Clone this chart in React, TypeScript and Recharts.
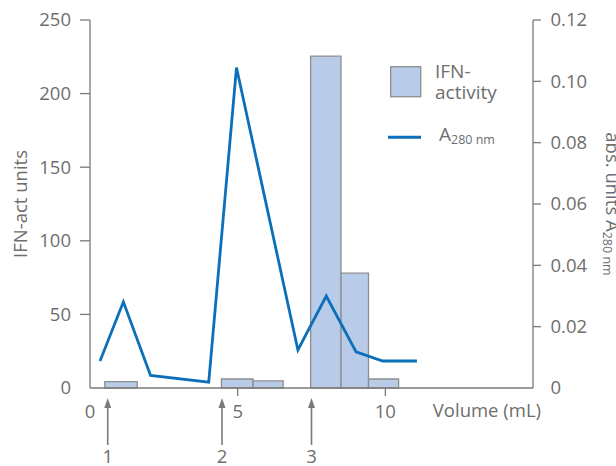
import { ComposedChart, Line, XAxis, YAxis, ReferenceArea, Legend, Label } from 'recharts';

// fractions (IFN activity, histogram bars)
const fractionStart = [0.5, 4.45, 5.52, 7.47, 8.5, 9.43];
const fractionEnd = [1.6, 5.52, 6.54, 8.5, 9.43, 10.45];
const ifnActivity = [4.3, 6.1, 4.8, 225.5, 78, 6.1];

// absorbance trace
const volumes = [0.34, 1.13, 2.05, 4.02, 4.96, 7.04, 8.0, 9.01, 9.91, 11.07];
const a280 = [0.0088, 0.0281, 0.0041, 0.0019, 0.1045, 0.0124, 0.03, 0.0118, 0.0088, 0.0088];

// sample injections
const injectionVolumes = [0.6, 4.47, 7.5];
const injectionLabels = ['1', '2', '3'];

const volumeTicks = [0, 5, 10];
const ifnTicks = [0, 50, 100, 150, 200, 250];
const absTicks = [0, 0.02, 0.04, 0.06, 0.08, 0.1, 0.12];

const lineData = volumes.map((v, i) => ({ volume: v, a280: a280[i] }));

const FONT = '"Open Sans", sans-serif';
const TEXT = '#6e6e6e';
const AXIS = '#7a7a7a';
const BAR_FILL = '#b8cbe8';
const BAR_STROKE = '#8e8e8e';
const LINE = '#0b6fba';
const FS = 18.5;

const LeftTick = ({ x, y, payload }: any) => (
  <g>
    {payload.value !== 0 && <line x1={x - 10} x2={x} y1={y} y2={y} stroke={AXIS} strokeWidth={1.3} />}
    <text x={x - 19} y={y} dy="0.35em" textAnchor="end" fill={TEXT} fontSize={FS} fontFamily={FONT}>
      {payload.value}
    </text>
  </g>
);

const RightTick = ({ x, y, payload }: any) => (
  <g>
    {payload.value !== 0 && <line x1={x} x2={x + 8} y1={y} y2={y} stroke={AXIS} strokeWidth={1.3} />}
    <text x={x + 17.5} y={y} dy="0.35em" textAnchor="start" fill={TEXT} fontSize={FS} fontFamily={FONT}>
      {payload.value === 0 ? '0' : payload.value.toFixed(2)}
    </text>
  </g>
);

const VolumeTick = ({ x, y, payload }: any) => (
  <g>
    {payload.value !== 0 && <line x1={x} x2={x} y1={y} y2={y + 8} stroke={AXIS} strokeWidth={1.3} />}
    <text x={x} y={y + 30} textAnchor="middle" fill={TEXT} fontSize={FS} fontFamily={FONT}>
      {payload.value}
    </text>
  </g>
);

const InjectionTick = ({ x, y, index }: any) => (
  <g>
    <line x1={x} x2={x} y1={y - 24} y2={y + 17} stroke={AXIS} strokeWidth={1.6} />
    <path d={`M${x},${y - 30} L${x - 3.5},${y - 20} L${x + 3.5},${y - 20} Z`} fill={AXIS} />
    <text x={x} y={y + 34.5} textAnchor="middle" fill={TEXT} fontSize={FS} fontFamily={FONT}>
      {injectionLabels[index]}
    </text>
  </g>
);

const LegendBox = () => (
  <svg width={170} height={105} style={{ display: 'block' }}>
    <rect x={10.7} y={16.7} width={30} height={30} fill={BAR_FILL} stroke={BAR_STROKE} strokeWidth={1.3} />
    <text x={55} y={27.7} fill={TEXT} fontSize={19} fontFamily={FONT}>IFN-</text>
    <text x={55} y={49} fill={TEXT} fontSize={19} fontFamily={FONT}>activity</text>
    <line x1={8} x2={41} y1={87.3} y2={87.3} stroke={LINE} strokeWidth={3} />
    <text x={59} y={90.7} fill={TEXT} fontSize={19} fontFamily={FONT}>
      A<tspan fontSize={12.5} dy={3.5}>280 nm</tspan>
    </text>
  </svg>
);

export default function App() {
  return (
    <div style={{ position: 'absolute', left: 0, top: 0 }}>
      <ComposedChart width={616} height={466} data={lineData} margin={{ top: 20, right: 0, bottom: 0, left: 0 }}>
        <XAxis
          xAxisId="axis1"
          dataKey="volume"
          type="number"
          domain={[0, 15]}
          allowDataOverflow
          ticks={volumeTicks}
          height={40}
          stroke={AXIS}
          strokeWidth={1.3}
          tickLine={false}
          tickSize={0}
          tickMargin={0}
          tick={<VolumeTick />}
        >
          <Label
            content={({ viewBox }: any) => (
              <text
                x={viewBox.x + viewBox.width + 8}
                y={viewBox.y + 29}
                textAnchor="end"
                fill={TEXT}
                fontSize={FS}
                fontFamily={FONT}
              >
                Volume (mL)
              </text>
            )}
          />
        </XAxis>
        <XAxis
          xAxisId="axis2"
          dataKey="volume"
          type="number"
          domain={[0, 15]}
          allowDataOverflow
          ticks={injectionVolumes}
          height={38}
          axisLine={false}
          tickLine={false}
          tickSize={0}
          tickMargin={0}
          tick={<InjectionTick />}
        />
        <YAxis
          yAxisId="left"
          domain={[0, 250]}
          allowDataOverflow
          ticks={ifnTicks}
          width={90}
          stroke={AXIS}
          strokeWidth={1.3}
          tickLine={false}
          tickSize={0}
          tickMargin={0}
          tick={<LeftTick />}
        >
          <Label
            content={({ viewBox }: any) => {
              const x = viewBox.x + 27;
              const y = viewBox.y + viewBox.height / 2;
              return (
                <text x={x} y={y} transform={`rotate(-90, ${x}, ${y})`} textAnchor="middle" fill={TEXT} fontSize={FS} fontFamily={FONT}>
                  IFN-act units
                </text>
              );
            }}
          />
        </YAxis>
        <YAxis
          yAxisId="right"
          orientation="right"
          domain={[0, 0.12]}
          allowDataOverflow
          ticks={absTicks}
          width={83}
          stroke={AXIS}
          strokeWidth={1.3}
          tickLine={false}
          tickSize={0}
          tickMargin={0}
          tick={<RightTick />}
        >
          <Label
            content={({ viewBox }: any) => {
              const x = viewBox.x + 73;
              const y = viewBox.y + viewBox.height / 2;
              return (
                <text x={x} y={y} transform={`rotate(90, ${x}, ${y})`} textAnchor="middle" fill={TEXT} fontSize={FS} fontFamily={FONT}>
                  abs. units A<tspan fontSize={12.5} dy={3.5}>280 nm</tspan>
                </text>
              );
            }}
          />
        </YAxis>
        {ifnActivity.map((v, i) => (
          <ReferenceArea
            key={i}
            xAxisId="axis1"
            yAxisId="left"
            x1={fractionStart[i]}
            x2={fractionEnd[i]}
            y1={0}
            y2={v}
            fill={BAR_FILL}
            fillOpacity={1}
            stroke={BAR_STROKE}
            strokeWidth={1.3}
            ifOverflow="visible"
          />
        ))}
        <Line
          xAxisId="axis1"
          yAxisId="right"
          dataKey="a280"
          stroke={LINE}
          strokeWidth={2.8}
          dot={false}
          activeDot={false}
          isAnimationActive={false}
        />
        <Legend
          layout="vertical"
          align="center"
          verticalAlign="middle"
          wrapperStyle={{ left: 380, top: 50, width: 170 }}
          content={() => <LegendBox />}
        />
      </ComposedChart>
    </div>
  );
}
